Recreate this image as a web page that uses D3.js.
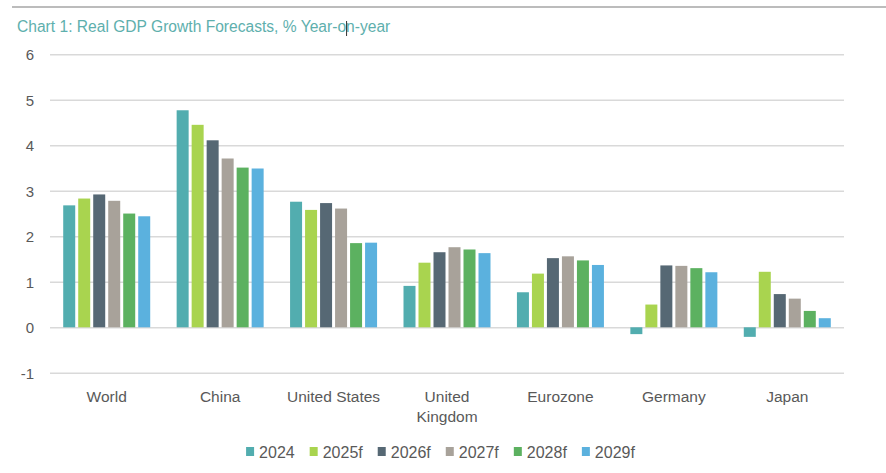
<!DOCTYPE html>
<html>
<head>
<meta charset="utf-8">
<script src="https://cdn.jsdelivr.net/npm/d3@7"></script>
<style>
  body { margin: 0; background: #fff; }
  svg text { font-family: "Liberation Sans", Arial, sans-serif; }
</style>
</head>
<body>
<div id="chart"></div>
<script>
// data
var countries = ["World", "China", "United States", "United Kingdom", "Eurozone", "Germany", "Japan"];
var series = ["2024", "2025f", "2026f", "2027f", "2028f", "2029f"];
var colors = ["#52adaf", "#a9d44f", "#566874", "#a8a29a", "#5cb160", "#5bb1de"];
var v2024  = [2.68, 4.77, 2.76, 0.91, 0.77, -0.15, -0.21];
var v2025f = [2.83, 4.45, 2.58, 1.42, 1.18, 0.5, 1.22];
var v2026f = [2.92, 4.11, 2.73, 1.65, 1.52, 1.36, 0.73];
var v2027f = [2.78, 3.71, 2.61, 1.76, 1.56, 1.35, 0.63];
var v2028f = [2.5, 3.51, 1.85, 1.71, 1.47, 1.3, 0.36];
var v2029f = [2.44, 3.49, 1.86, 1.63, 1.37, 1.21, 0.2];
var yTicks = [-1, 0, 1, 2, 3, 4, 5, 6];

var values = [v2024, v2025f, v2026f, v2027f, v2028f, v2029f];
var W = 886, H = 473;

var svg = d3.select("#chart").append("svg")
    .attr("width", W)
    .attr("height", H);

// top rule and title
svg.append("line")
    .attr("x1", 12).attr("x2", W)
    .attr("y1", 7).attr("y2", 7)
    .style("stroke", "#a6a6a6")
    .style("stroke-width", 1.5);

var title = svg.append("text")
    .attr("x", 17).attr("y", 32)
    .attr("font-size", "15.6px")
    .attr("fill", "#5eafad")
    .text("Chart 1: Real GDP Growth Forecasts, % Year-on-year");

// text caret left in the screenshot, sits after "Year-o"
var caretX = 17 + title.node().getSubStringLength(0, "Chart 1: Real GDP Growth Forecasts, % Year-o".length);
svg.append("line")
    .attr("x1", caretX + 0.5).attr("x2", caretX + 0.5)
    .attr("y1", 21).attr("y2", 36)
    .style("stroke", "#333")
    .style("stroke-width", 1);

var x0 = d3.scaleBand()
    .domain(countries)
    .range([50, 844])
    .paddingInner(0.233)
    .paddingOuter(0.1165);

var x1 = d3.scaleBand()
    .domain(series)
    .range([0, x0.bandwidth()])
    .paddingInner(0.2);

var y = d3.scaleLinear()
    .domain([-1, 6])
    .range([372.8, 54.3]);

// gridlines + y labels
var yAxis = d3.axisLeft(y)
    .tickValues(yTicks)
    .tickSize(-(844 - 50))
    .tickFormat(function(d) { return String(d); });

var gy = svg.append("g")
    .attr("transform", "translate(50,0)")
    .call(yAxis);
gy.select(".domain").remove();
gy.selectAll(".tick line")
    .style("stroke", "#d9d9d9")
    .style("stroke-width", 1.5);
gy.selectAll(".tick text")
    .attr("x", -16)
    .attr("dy", "0.36em")
    .attr("font-size", "15px")
    .attr("fill", "#595959");

// bars
var groups = svg.selectAll("g.country")
    .data(countries)
    .enter()
    .append("g")
    .attr("class", "country")
    .attr("transform", function(d) { return "translate(" + x0(d) + ",0)"; });

groups.selectAll("rect")
    .data(function(d, i) {
        return series.map(function(s, j) { return {s: s, v: values[j][i], c: colors[j]}; });
    })
    .enter()
    .append("rect")
    .attr("x", function(d) { return x1(d.s); })
    .attr("y", function(d) { return y(Math.max(0, d.v)); })
    .attr("width", x1.bandwidth())
    .attr("height", function(d) { return Math.abs(y(d.v) - y(0)); })
    .style("fill", function(d) { return d.c; });

// category labels (wrap United Kingdom)
var xAxis = d3.axisBottom(x0).tickSize(0).tickPadding(0);
var gx = svg.append("g")
    .call(xAxis);
gx.select(".domain").remove();
gx.selectAll(".tick text").remove();
gx.selectAll(".tick").each(function(d) {
    var words = d === "United Kingdom" ? ["United", "Kingdom"] : [d];
    var t = d3.select(this).append("text")
        .attr("text-anchor", "middle")
        .attr("font-size", "15.5px")
        .attr("fill", "#595959");
    words.forEach(function(w, k) {
        t.append("tspan").attr("x", 0).attr("y", 402 + k * 20).text(w);
    });
});

// legend
var legend = svg.append("g");
var lx = 0;
series.forEach(function(s, j) {
    var item = legend.append("g").attr("transform", "translate(" + lx + ",0)");
    item.append("rect")
        .attr("x", 0).attr("y", 447)
        .attr("width", 8).attr("height", 9)
        .style("fill", colors[j]);
    var t = item.append("text")
        .attr("x", 13).attr("y", 457.5)
        .attr("font-size", "16px")
        .attr("fill", "#595959")
        .text(s);
    lx += 13 + t.node().getComputedTextLength() + 15;
});
var lw = lx - 15;
legend.attr("transform", "translate(" + (440.5 - lw / 2) + ",0)");
</script>
</body>
</html>
